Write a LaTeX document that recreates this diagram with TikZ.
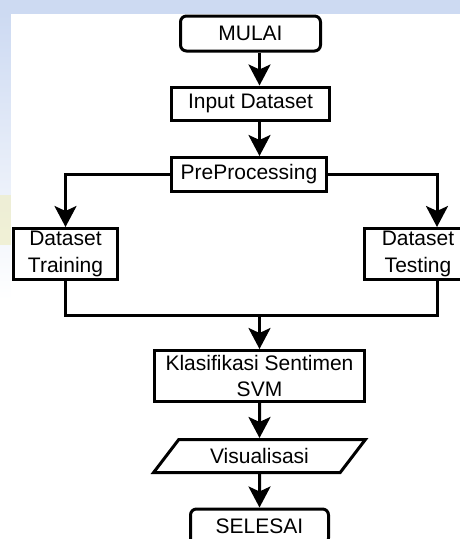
\documentclass[tikz,border=0pt]{standalone}
\usepackage{fontspec}
\setmainfont{Liberation Sans}
\usetikzlibrary{shapes.geometric,arrows.meta}

\definecolor{wmblue}{RGB}{205,218,242}
\definecolor{wmyellow}{RGB}{238,236,190}

\tikzset{
  flowbox/.style={draw, line width=3pt, rectangle, inner sep=0pt, align=center,
                  font=\fontsize{21}{26.5}\selectfont},
  termbox/.style={flowbox, rounded corners=6pt},
  iobox/.style={flowbox, trapezium, trapezium left angle=45, trapezium right angle=135,
                trapezium stretches=true},
  flowline/.style={line width=3pt},
  flowarrow/.style={flowline, -{Stealth[length=21pt,width=22pt,inset=5pt]}}
}

\begin{document}
\begin{tikzpicture}[x=1pt, y=-1pt]
\useasboundingbox (0,0) rectangle (460,539);
\clip (0,0) rectangle (460,539);

% faded background of the page behind the chart
\fill[wmblue] (0,0) rectangle (460,14);
\shade[top color=wmblue, bottom color=white] (0,14) rectangle (11,300);
\fill[wmyellow, opacity=0.6] (0,195) rectangle (11,245);
\fill[white] (11,14) rectangle (460,539);

% steps
\node[termbox, minimum width=140, minimum height=35] (mulai) at (250.5, 33.5) {MULAI};
\node[flowbox, minimum width=158, minimum height=33] (input) at (250.5, 103.5) {Input Dataset};
\node[flowbox, minimum width=155, minimum height=34] (prepro) at (249, 174.5) {PreProcessing};

\node[flowbox, minimum width=104, minimum height=51] (train) at (65.5, 254) {Dataset\\Training};
\node[flowbox, minimum width=107, minimum height=51] (test) at (418, 254) {Dataset\\Testing};

\node[flowbox, minimum width=210, minimum height=51] (klasif) at (259.5, 376) {Klasifikasi Sentimen\\SVM};
\node[iobox, minimum width=212, minimum height=33] (visual) at (259.5, 456) {Visualisasi};
\node[termbox, minimum width=138, minimum height=35] (selesai) at (259.5, 526.5) {SELESAI};

% helper points
\coordinate (testcol) at (437, 0);
\coordinate (merge) at (259.5, 315);

% connectors
\draw[flowarrow] (mulai.south -| klasif) -- (input.north -| klasif);
\draw[flowarrow] (input.south -| klasif) -- (prepro.north -| klasif);

\draw[flowarrow] (prepro.west) -| (train.north);
\draw[flowarrow] (prepro.east) -| (testcol |- test.north);

\draw[flowline] (train.south) |- (merge);
\draw[flowline] (testcol |- test.south) |- (merge);
\draw[flowarrow] (merge) -- (klasif.north);

\draw[flowarrow] (klasif.south) -- (visual.north);
\draw[flowarrow] (visual.south) -- (selesai.north);

\end{tikzpicture}
\end{document}
